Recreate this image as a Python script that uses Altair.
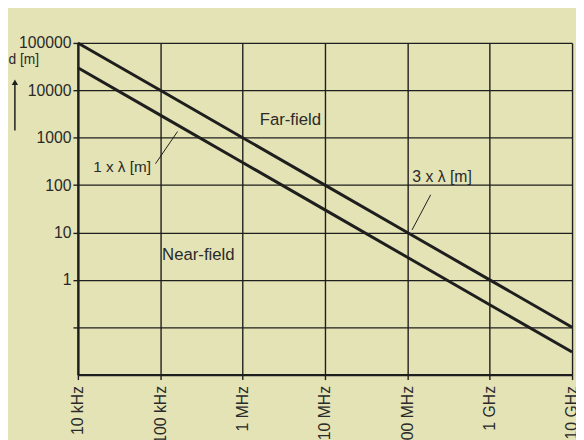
import altair as alt
import pandas as pd

# ---- data ----
freq_hz = [1e4, 1e5, 1e6, 1e7, 1e8, 1e9, 1e10]
freq_labels = ["10 kHz", "100 kHz", "1 MHz", "10 MHz", "100 MHz", "1 GHz", "10 GHz"]

d_ticks = [0.1, 1, 10, 100, 1000, 10000, 100000]
d_labels = ["", "1", "10", "100", "1000", "10000", "100000"]

three_lambda = [100000, 10000, 1000, 100, 10, 1, 0.1]      # 3 x lambda [m]
one_lambda = [30000, 3000, 300, 30, 3, 0.3, 0.03]          # 1 x lambda [m]

ann_text = ["Far-field", "Near-field", "1 x λ [m]", "3 x λ [m]"]
ann_f = [3.8e6, 2.9e5, 7.7e4, 1.15e8]
ann_d = [2400, 3.3, 241, 150]
ann_align = ["center", "center", "right", "left"]
ann_size = [17, 17, 15.5, 16]

leader_f1 = [8.75e4, 1.92e8]
leader_d1 = [282, 62.4]
leader_f2 = [1.62e5, 1.14e8]
leader_d2 = [1349, 11.3]

BG = "#e4e3b5"
INK = "#1e1e1e"
TXT = "#2a2a2a"
FONT = "Liberation Sans"

lines_df = pd.DataFrame({
    "f": freq_hz + freq_hz,
    "d": three_lambda + one_lambda,
    "series": ["3 x λ"] * len(freq_hz) + ["1 x λ"] * len(freq_hz),
})
ann_df = pd.DataFrame({"text": ann_text, "f": ann_f, "d": ann_d,
                       "align": ann_align, "size": ann_size})
lead_df = pd.DataFrame({"f1": leader_f1, "d1": leader_d1,
                        "f2": leader_f2, "d2": leader_d2})


def mapping_expr(values, labels):
    expr = "''"
    for v, l in zip(reversed(values), reversed(labels)):
        expr = f"(abs(log(datum.value) - log({v})) < 0.01 ? '{l}' : {expr})"
    return expr


x_scale = alt.Scale(type="log", domain=[1e4, 1e10], nice=False)
y_scale = alt.Scale(type="log", domain=[0.01, 1e5], nice=False)

x_axis = alt.Axis(values=freq_hz, labelExpr=mapping_expr(freq_hz, freq_labels),
                  labelAngle=270, labelAlign="right", labelBaseline="middle",
                  labelPadding=6, title=None, grid=True)
y_axis = alt.Axis(values=d_ticks, labelExpr=mapping_expr(d_ticks, d_labels),
                  labelPadding=2, grid=True, title="d [m]", titleAngle=0,
                  titleX=-71, titleY=21, titleAlign="left",
                  titleBaseline="alphabetic", titleFontWeight="normal",
                  titleFontSize=14, titleFont=FONT, titleColor=TXT)

base_lines = alt.Chart(lines_df).mark_line(color=INK, strokeWidth=3).encode(
    x=alt.X("f:Q", scale=x_scale, axis=x_axis),
    y=alt.Y("d:Q", scale=y_scale, axis=y_axis),
    detail="series:N",
)

leaders = alt.Chart(lead_df).mark_rule(color=INK, strokeWidth=1).encode(
    x=alt.X("f1:Q", scale=x_scale),
    y=alt.Y("d1:Q", scale=y_scale),
    x2="f2:Q",
    y2="d2:Q",
)

labels = []
for i in range(len(ann_text)):
    labels.append(
        alt.Chart(ann_df.iloc[[i]]).mark_text(
            font=FONT, fontSize=ann_size[i], color=TXT, align=ann_align[i],
            baseline="middle"
        ).encode(
            x=alt.X("f:Q", scale=x_scale),
            y=alt.Y("d:Q", scale=y_scale),
            text="text:N",
        )
    )

arrow_shaft = alt.Chart(alt.Data(values=[{"a": 1}])).mark_rule(
    color=INK, strokeWidth=1.5
).encode(x=alt.value(-64), y=alt.value(42), y2=alt.value(89))

arrow_head = alt.Chart(alt.Data(values=[{"a": 1}])).mark_point(
    shape="triangle-up", filled=True, color=INK, size=40, opacity=1
).encode(x=alt.value(-64), y=alt.value(40))

chart = alt.layer(base_lines, leaders, *labels, arrow_shaft, arrow_head).properties(
    width=502,
    height=337,
    background=BG,
    padding={"left": 71, "top": 32, "right": 4, "bottom": 70},
    autosize=alt.AutoSizeParams(type="none"),
).configure_axis(
    labelFont=FONT,
    labelFontSize=16,
    labelColor=TXT,
    gridColor=INK,
    gridWidth=1.4,
    gridOpacity=1,
    domainColor=INK,
    domainWidth=2.4,
    tickColor=INK,
    tickSize=5,
    tickWidth=1.4,
).configure_view(strokeWidth=0)

chart.save("out.html", embed_options={"renderer": "svg", "actions": False})
